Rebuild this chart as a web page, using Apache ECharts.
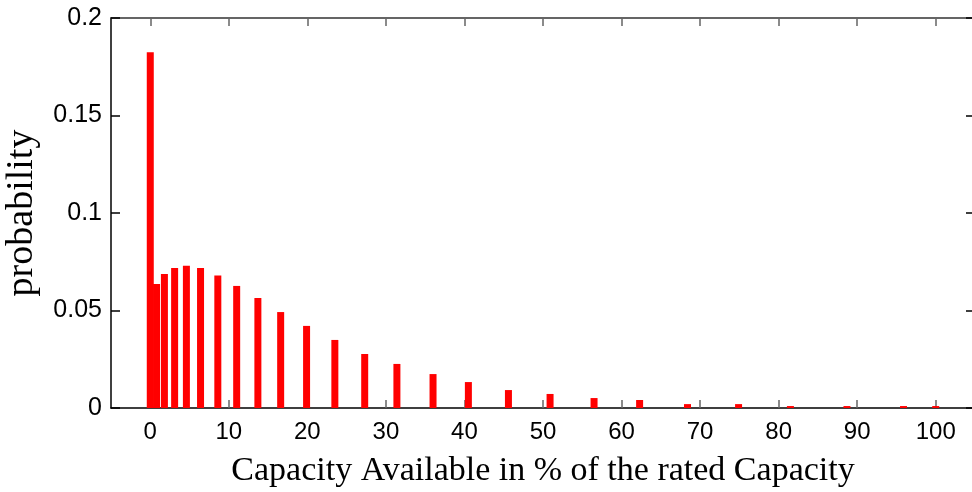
<!DOCTYPE html>
<html>
<head>
<meta charset="utf-8">
<script src="https://cdn.jsdelivr.net/npm/echarts@6/dist/echarts.min.js"></script>
<style>
  html, body { margin: 0; padding: 0; background: #fff; }
  #chart { width: 972px; height: 492px; }
</style>
</head>
<body>
<div id="chart"></div>
<script>
// Available capacity (% of rated) and probability of each state
const capacityPct = [0, 0.8, 1.8, 3.1, 4.6, 6.4, 8.6, 11.0, 13.7, 16.6, 19.9, 23.5, 27.3, 31.4,
  36.0, 40.5, 45.6, 50.9, 56.5, 62.3, 68.4, 74.9, 81.5, 88.7, 95.9, 100];
const probability = [0.1825, 0.0636, 0.0687, 0.0718, 0.0730, 0.0718, 0.0679, 0.0626, 0.0564, 0.0492,
  0.0421, 0.0349, 0.0277, 0.0226, 0.0174, 0.0133, 0.0092, 0.0072, 0.0051, 0.0041,
  0.0020, 0.0020, 0.0010, 0.0010, 0.0010, 0.0010];
const xTicks = [0, 10, 20, 30, 40, 50, 60, 70, 80, 90, 100];

const sans = 'Liberation Sans';
const serif = 'Liberation Serif';

const points = capacityPct.map((x, i) => [x, probability[i]]);

const chart = echarts.init(document.getElementById('chart'), null, { renderer: 'canvas' });
chart.setOption({
  animation: false,
  backgroundColor: '#fff',
  grid: { left: 111, top: 18, width: 864, height: 390, containLabel: false, outerBoundsMode: 'none' },
  xAxis: [
    {
      type: 'value', position: 'bottom', min: -5, max: 105,
      axisLine: { show: true, onZero: false, lineStyle: { color: '#000', width: 1.5 } },
      axisTick: { show: true, inside: true, length: 8, customValues: xTicks, lineStyle: { color: '#666', width: 1.5 } },
      axisLabel: { customValues: xTicks, fontFamily: sans, fontSize: 24, color: '#000', margin: 12 },
      splitLine: { show: false },
      name: 'Capacity Available in % of the rated Capacity',
      nameLocation: 'middle', nameGap: 46,
      nameTextStyle: { fontFamily: serif, fontSize: 34, color: '#000' }
    },
    {
      type: 'value', position: 'top', min: -5, max: 105,
      axisLine: { show: true, onZero: false, lineStyle: { color: '#333', width: 1.5 } },
      axisTick: { show: true, inside: true, length: 8, customValues: xTicks, lineStyle: { color: '#666', width: 1.5 } },
      axisLabel: { show: false },
      splitLine: { show: false }
    }
  ],
  yAxis: [
    {
      type: 'value', position: 'left', min: 0, max: 0.2, interval: 0.05,
      axisLine: { show: true, onZero: false, lineStyle: { color: '#000', width: 1.5 } },
      axisTick: { show: true, inside: true, length: 9, lineStyle: { color: '#000', width: 1.5 } },
      axisLabel: {
        fontFamily: sans, fontSize: 25, color: '#000', margin: 9,
        formatter: v => String(+v.toFixed(2))
      },
      splitLine: { show: false },
      name: 'probability', nameLocation: 'middle', nameRotate: 90, nameGap: 70,
      nameTextStyle: { fontFamily: serif, fontSize: 38, color: '#000' }
    },
    {
      type: 'value', position: 'right', min: 0, max: 0.2, interval: 0.05,
      axisLine: { show: true, onZero: false, lineStyle: { color: '#000', width: 1.5 } },
      axisTick: { show: true, inside: true, length: 9, lineStyle: { color: '#000', width: 1.5 } },
      axisLabel: { show: false },
      splitLine: { show: false }
    }
  ],
  series: [
    {
      type: 'bar',
      xAxisIndex: 0, yAxisIndex: 0,
      data: points,
      barWidth: 7,
      itemStyle: { color: '#ff0000' }
    }
  ]
});
</script>
</body>
</html>
